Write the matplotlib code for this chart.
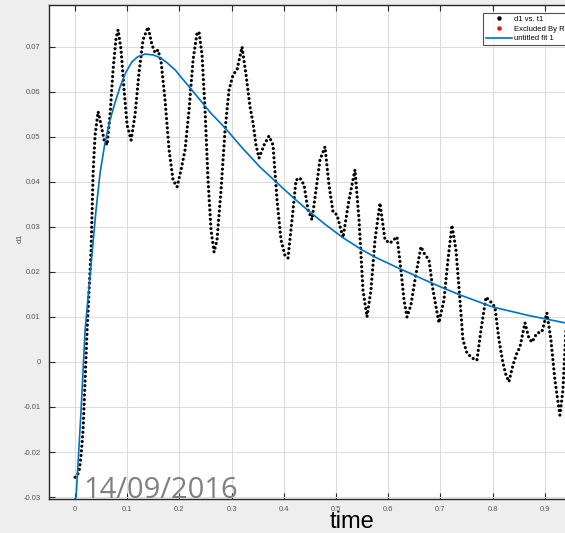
import matplotlib.pyplot as plt
from matplotlib.lines import Line2D

t1 = [0.0, 0.004, 0.008, 0.0115, 0.0153, 0.0192, 0.023, 0.0268, 0.0307, 0.0345,
      0.0383, 0.0441, 0.0498, 0.0556, 0.0613, 0.067, 0.0728, 0.0785, 0.0824, 0.0881,
      0.0939, 0.0996, 0.1073, 0.1149, 0.1226, 0.1303, 0.1398, 0.1475, 0.1533, 0.159,
      0.1648, 0.1724, 0.1801, 0.1877, 0.1954, 0.2031, 0.2107, 0.2184, 0.2261, 0.2337,
      0.2375, 0.2433, 0.249, 0.2548, 0.2605, 0.2663, 0.272, 0.2797, 0.2874, 0.295,
      0.3027, 0.3103, 0.3199, 0.3276, 0.3352, 0.341, 0.3467, 0.3525, 0.3621, 0.3716,
      0.3793, 0.387, 0.3946, 0.4023, 0.408, 0.4157, 0.4234, 0.431, 0.4387, 0.4464,
      0.454, 0.4617, 0.4693, 0.4789, 0.4866, 0.4943, 0.5019, 0.5134, 0.5249, 0.5364,
      0.5441, 0.5517, 0.5594, 0.567, 0.5747, 0.5843, 0.5939, 0.6034, 0.6169, 0.6245,
      0.6303, 0.636, 0.6437, 0.6513, 0.6628, 0.6705, 0.6782, 0.6858, 0.6973, 0.7069,
      0.7146, 0.7222, 0.7299, 0.7375, 0.7433, 0.751, 0.7605, 0.7701, 0.7778, 0.7874,
      0.7969, 0.8046, 0.8123, 0.8199, 0.8257, 0.8314, 0.8391, 0.8467, 0.8525, 0.8621,
      0.8697, 0.8755, 0.885, 0.8946, 0.9042, 0.9119, 0.9195, 0.9291, 0.9349, 0.9406]
d1 = [-0.0256, -0.0253, -0.024, -0.0207, -0.0151, -0.004, 0.0071, 0.016, 0.0249, 0.042,
      0.0504, 0.0556, 0.0527, 0.0493, 0.0482, 0.0549, 0.0649, 0.072, 0.0738, 0.0693,
      0.0604, 0.0527, 0.0493, 0.0549, 0.0644, 0.0716, 0.0744, 0.0704, 0.0687, 0.0693,
      0.0667, 0.0582, 0.0471, 0.0404, 0.0389, 0.0427, 0.0471, 0.056, 0.0671, 0.0731,
      0.0733, 0.0682, 0.056, 0.0404, 0.0293, 0.0244, 0.0271, 0.0382, 0.0516, 0.0604,
      0.0638, 0.0649, 0.07, 0.0638, 0.0567, 0.0531, 0.0482, 0.0453, 0.0482, 0.0502,
      0.0482, 0.036, 0.0271, 0.0236, 0.0231, 0.0316, 0.0404, 0.0409, 0.0393, 0.0338,
      0.0316, 0.0382, 0.0449, 0.0478, 0.0393, 0.0333, 0.0327, 0.0276, 0.036, 0.0427,
      0.0316, 0.016, 0.01, 0.016, 0.0271, 0.0353, 0.0271, 0.0264, 0.0278, 0.0204,
      0.0138, 0.01, 0.0127, 0.0182, 0.0256, 0.0238, 0.0227, 0.016, 0.0087, 0.0138,
      0.0227, 0.0304, 0.0249, 0.0138, 0.0049, 0.002, 0.0009, 0.0004, 0.0071, 0.0144,
      0.0133, 0.0122, 0.0049, -0.0002, -0.0029, -0.0044, -0.0007, 0.002, 0.0033, 0.0087,
      0.0053, 0.0044, 0.0064, 0.0067, 0.0109, 0.0049, -0.004, -0.0118, -0.0062, 0.0071]

# Curva del ajuste "untitled fit 1"
t_fit = [0.0, 0.002, 0.0115, 0.0192, 0.0326, 0.04, 0.0479, 0.057, 0.067, 0.077,
         0.0862, 0.097, 0.1092, 0.12, 0.1341, 0.15, 0.1628, 0.175, 0.1916, 0.205,
         0.2203, 0.2395, 0.26, 0.2874, 0.32, 0.3544, 0.387, 0.42, 0.4502, 0.48,
         0.5134, 0.55, 0.5747, 0.6226, 0.6609, 0.70, 0.7375, 0.8008, 0.87, 0.9387, 1.0]
d_fit = [-0.0304, -0.03, -0.0107, 0.0071, 0.0242, 0.0336, 0.042, 0.0485, 0.0538, 0.0578,
         0.0611, 0.0643, 0.0667, 0.0678, 0.0684, 0.0682, 0.0676, 0.0666, 0.0649, 0.063,
         0.0609, 0.0582, 0.0553, 0.052, 0.0476, 0.0433, 0.0398, 0.0363, 0.0333, 0.0305,
         0.0276, 0.0249, 0.0233, 0.0207, 0.0187, 0.0167, 0.0149, 0.0122, 0.0103, 0.0087,
         0.0077]

x_ticks = [0, 0.1, 0.2, 0.3, 0.4, 0.5, 0.6, 0.7, 0.8, 0.9, 1.0]
x_labels = ['0', '0.1', '0.2', '0.3', '0.4', '0.5', '0.6', '0.7', '0.8', '0.9', '1']
y_ticks = [-0.03, -0.02, -0.01, 0, 0.01, 0.02, 0.03, 0.04, 0.05, 0.06, 0.07]
y_labels = ['-0.03', '-0.02', '-0.01', '0', '0.01', '0.02', '0.03', '0.04', '0.05', '0.06', '0.07']

plt.rcParams['font.family'] = ['Liberation Sans', 'DejaVu Sans']

fig = plt.figure(figsize=(5.65, 5.33), dpi=100, facecolor='#eeeeee')
ax = fig.add_axes([49 / 565, 34 / 533, 574 / 565, 494 / 533])
ax.set_facecolor('white')

# Puntos negros (linea punteada gruesa) y curva azul
ax.plot(t1, d1, color='black', linewidth=2.3, linestyle=(0, (0.01, 1.45)),
        dash_capstyle='round', zorder=3)
ax.plot(t_fit, d_fit, color='#0072BD', linewidth=1.2, zorder=4)

ax.set_xlim(-0.05, 1.05)
ax.set_ylim(-0.03044, 0.0793)
ax.set_xticks(x_ticks)
ax.set_xticklabels(x_labels)
ax.set_yticks(y_ticks)
ax.set_yticklabels(y_labels)

ax.grid(True, color='#dcdcdc', linewidth=0.8)
ax.set_axisbelow(True)
ax.tick_params(direction='in', length=4, width=0.8, colors='#262626',
               labelsize=5.5, labelcolor='#555555', top=True, right=True)
ax.tick_params(axis='x', pad=5)
ax.tick_params(axis='y', pad=6)
for s in ax.spines.values():
    s.set_color('#262626')
    s.set_linewidth(1.0)

ax.set_ylabel('d1', fontsize=6, color='#555555')
ax.yaxis.set_label_coords(-0.045, 0.528)

# Leyenda
handles = [
    Line2D([], [], color='black', marker='o', markersize=2.2, linestyle='none'),
    Line2D([], [], color='red', marker='o', markersize=2.2, linestyle='none'),
    Line2D([], [], color='#0072BD', linewidth=1.2),
]
labels = ['d1 vs. t1', 'Excluded By Rule', 'untitled fit 1']
leg = ax.legend(handles, labels, loc='upper left',
                bbox_to_anchor=(483 / 565, 1 - 13 / 533),
                bbox_transform=fig.transFigure, fontsize=5.5,
                frameon=True, fancybox=False, borderpad=0.35, labelspacing=0.3,
                handlelength=3.4, handletextpad=0.3, borderaxespad=0)
leg.get_frame().set_edgecolor('#262626')
leg.get_frame().set_linewidth(0.8)

# Textos superpuestos (fecha y etiqueta del eje)
fig.text(83 / 565, 35 / 533, '14/09/2016', color='#808080', fontsize=21,
         family='Open Sans', va='baseline', ha='left', zorder=10)
fig.text(352 / 565, 5 / 533, 'time', color='black', fontsize=17,
         va='baseline', ha='center')

fig.savefig('out.png', dpi=100, facecolor=fig.get_facecolor())
